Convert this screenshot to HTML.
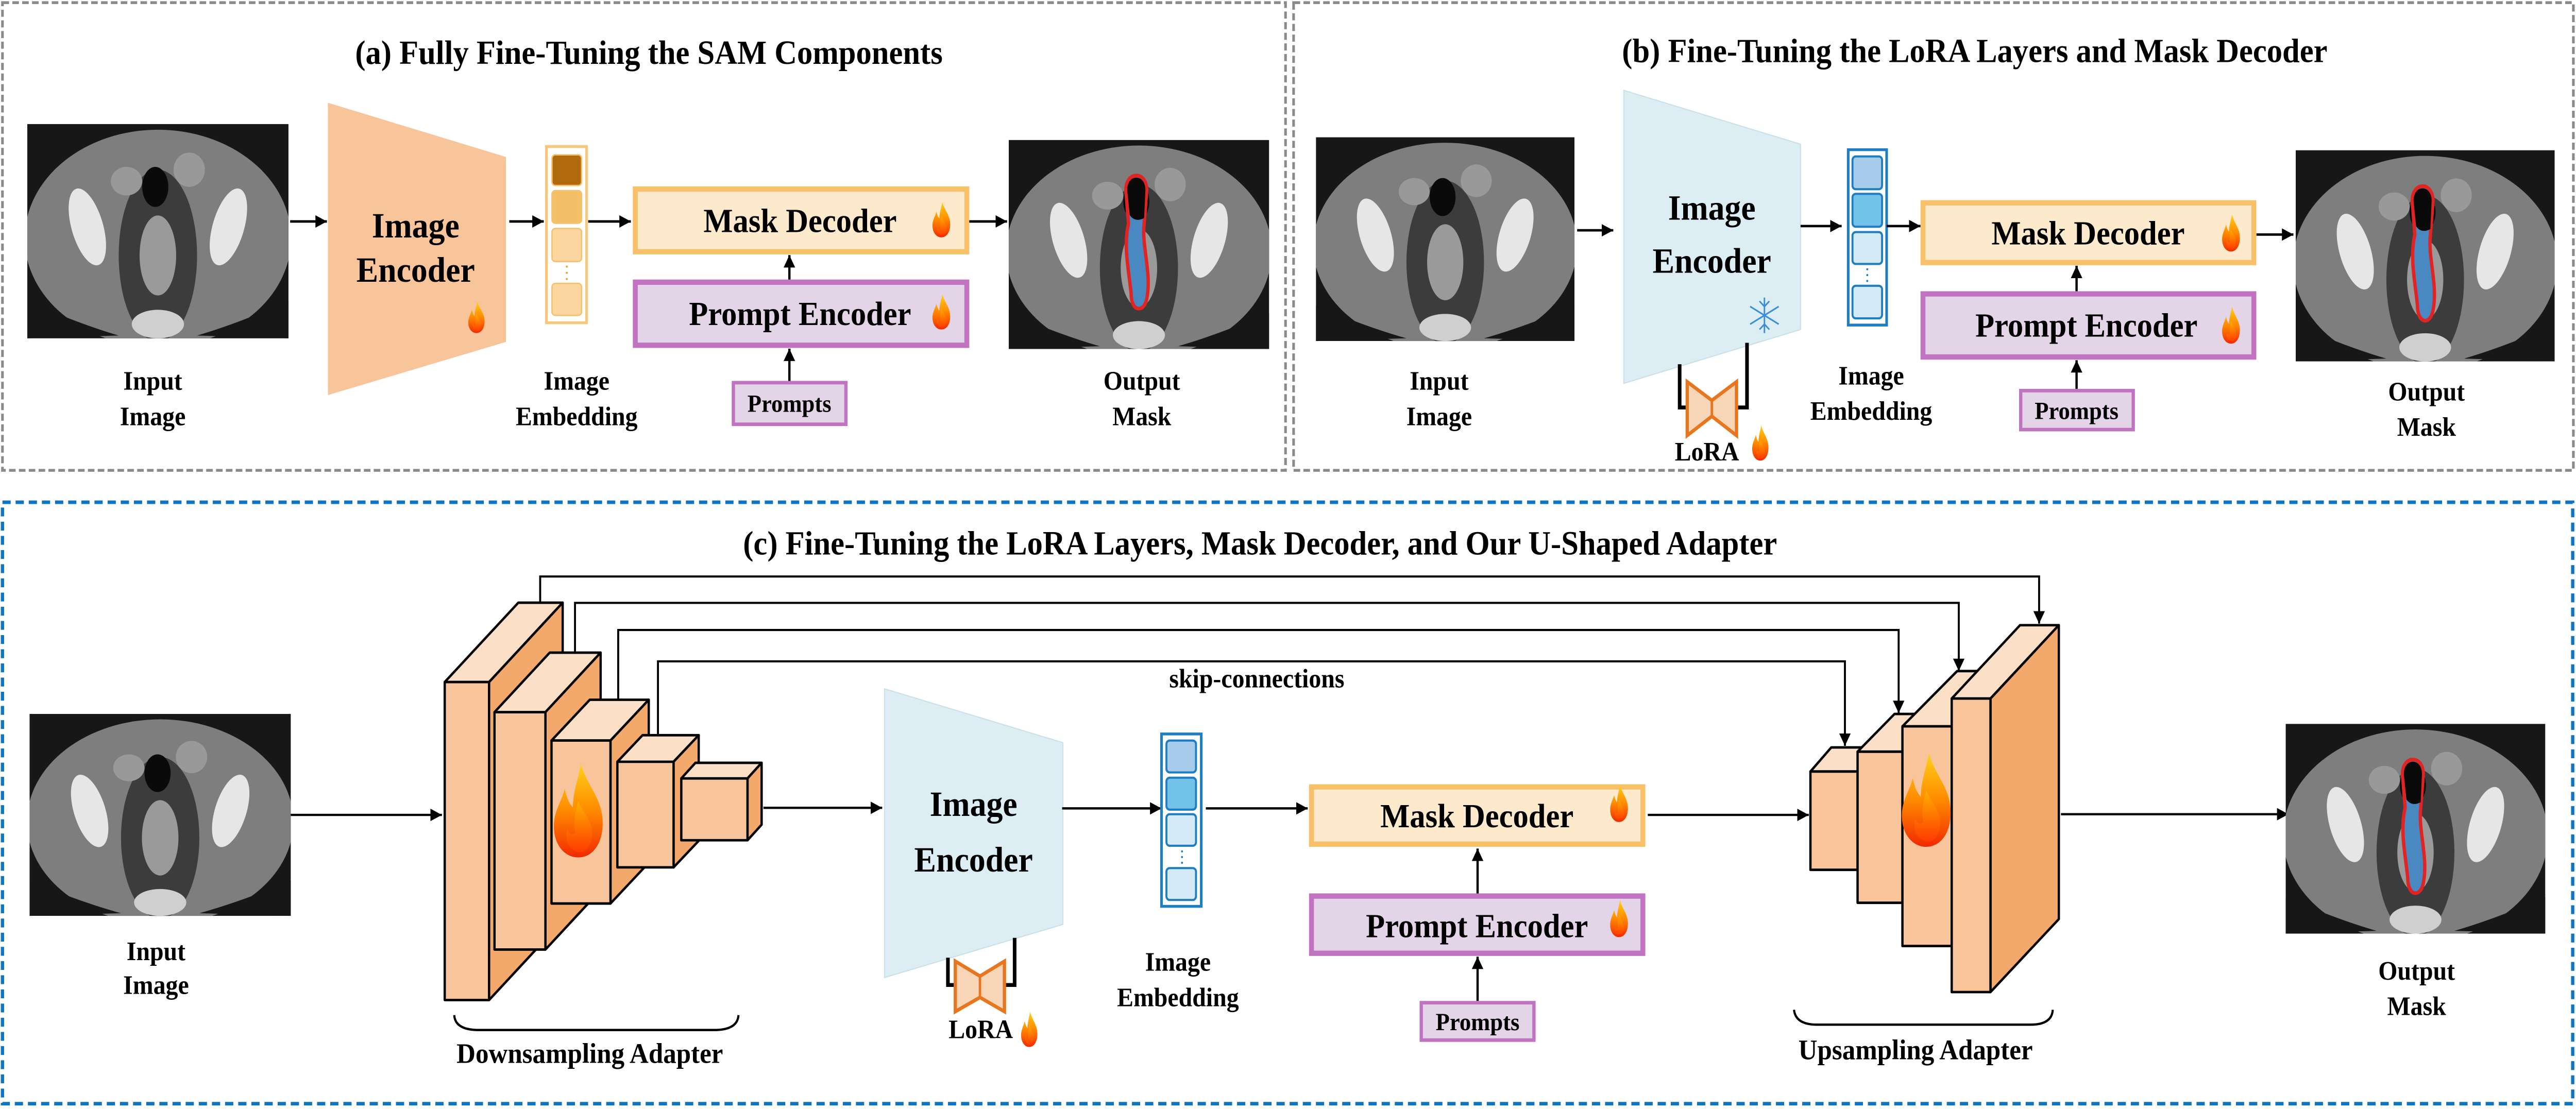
<!DOCTYPE html>
<html><head><meta charset="utf-8"><style>
html,body{margin:0;padding:0;background:#fff;width:100%;height:100%;overflow:hidden;}
svg.main{display:block;position:absolute;left:0;top:0;width:100vw;height:100vh;font-family:"Liberation Serif","Times New Roman",Times,serif;font-weight:bold;}
svg.main text{font-family:"Liberation Serif","Times New Roman",Times,serif !important;font-weight:bold;fill:#000;}
</style></head><body>
<svg class="main" xmlns="http://www.w3.org/2000/svg" viewBox="0 0 1568 626" preserveAspectRatio="none" style="font-family:'Liberation Serif','Times New Roman',serif;font-weight:bold">
<defs>
<marker id="ah" viewBox="0 0 10 10" refX="10" refY="5" markerWidth="7" markerHeight="7" markerUnits="userSpaceOnUse" orient="auto"><path d="M0,0 L10,5 L0,10 z" fill="#000"/></marker>
<linearGradient id="fg" x1="0" y1="0" x2="0" y2="1"><stop offset="0" stop-color="#ffd21a"/><stop offset="0.5" stop-color="#ff8a00"/><stop offset="1" stop-color="#f02a00"/></linearGradient>
<linearGradient id="fg2" x1="0" y1="0" x2="0" y2="1"><stop offset="0" stop-color="#ffb000"/><stop offset="1" stop-color="#ff3a00"/></linearGradient>
<symbol id="flame" viewBox="0 0 20 30" preserveAspectRatio="none">
<path d="M11 0 C13 7 19 11 19 19 C19 26 15 30 10 30 C5 30 1 26 1 20 C1 15 4 12 5 8 C6 12 7 13 8 14 C8 9 10 5 11 0Z" fill="url(#fg)"/>
<path d="M10 12 C12 16 16 19 15 24 C14 28 11 29 9 28 C6 27 5 24 6 21 C7 23 8 23 9 22 C8 19 9 15 10 12Z" fill="url(#fg2)"/>
</symbol>
<symbol id="ct" viewBox="0 0 100 75" preserveAspectRatio="none">
<rect width="100" height="75" fill="#171717"/>
<ellipse cx="50" cy="40" rx="51" ry="38" fill="#7e7e7e"/>
<ellipse cx="50" cy="46" rx="15" ry="30" fill="#3c3c3c"/>
<ellipse cx="50" cy="46" rx="7" ry="14" fill="#9a9a9a"/>
<ellipse cx="38" cy="20" rx="6" ry="5" fill="#999"/>
<ellipse cx="62" cy="16" rx="6" ry="6" fill="#999"/>
<ellipse cx="23" cy="36" rx="6" ry="14" fill="#e6e6e6" transform="rotate(-18 23 36)"/>
<ellipse cx="77" cy="36" rx="6" ry="14" fill="#e6e6e6" transform="rotate(18 77 36)"/>
<ellipse cx="49" cy="22" rx="5" ry="7" fill="#0a0a0a"/>
<ellipse cx="50" cy="70" rx="10" ry="5" fill="#cfcfcf"/>
<path d="M0 62 Q20 70 35 74 L0 75Z M100 62 Q80 70 65 74 L100 75Z" fill="#171717"/>
</symbol>
<symbol id="ctm" viewBox="0 0 100 75" preserveAspectRatio="none">
<use href="#ct" width="100" height="75"/>
<path d="M45 18 C45 11 53 11 53 18 L52 30 C51 38 55 48 53 57 C52 62 47 62 47 55 C46 46 44 38 46 30 Z" fill="#4a88c2" stroke="#e02424" stroke-width="1.3"/>
<path d="M45.5 18 C45.5 12 52.5 12 52.5 18 L52 28 C50 29 48 29 46.5 27 Z" fill="#0a0a0a"/>
</symbol>
</defs>
<rect width="1568" height="626" fill="#fff"/>

<rect x="1.5" y="1.5" width="781" height="264" fill="none" stroke="#8a8a8a" stroke-width="1.6" stroke-dasharray="4,2"/>
<rect x="787.4" y="1.5" width="779" height="264" fill="none" stroke="#8a8a8a" stroke-width="1.6" stroke-dasharray="4,2"/>
<rect x="1.5" y="283.5" width="1564.5" height="339.5" fill="none" stroke="#0e74c4" stroke-width="2" stroke-dasharray="5,3"/>

<g font-family="Liberation Serif, Times New Roman, serif" font-weight="bold">
<!-- ===== Panel A ===== -->
<text x="395" y="36" font-size="19" text-anchor="middle">(a) Fully Fine-Tuning the SAM Components</text>
<svg x="16.6" y="70" width="159" height="121" viewBox="0 0 100 75" preserveAspectRatio="none"><use href="#ct" width="100" height="75"/></svg>
<line x1="176.6" y1="125" x2="199" y2="125" stroke="#000" stroke-width="1.4" marker-end="url(#ah)"/>
<polygon points="199.6,58 308,88.6 308,193 199.6,223" fill="#f8c49a"/>
<text x="253" y="134" font-size="20" text-anchor="middle">Image</text>
<text x="253" y="159" font-size="20" text-anchor="middle">Encoder</text>
<use href="#flame" x="284.5" y="170" width="11" height="18"/>
<line x1="310" y1="125" x2="331" y2="125" stroke="#000" stroke-width="1.4" marker-end="url(#ah)"/>
<rect x="332.6" y="82.7" width="24.4" height="99.5" fill="#fff" stroke="#f8c77a" stroke-width="1.6"/>
<rect x="336" y="87.4" width="18" height="17.3" rx="2" fill="#b0690f" stroke="#f5bf68" stroke-width="0.8"/>
<rect x="336" y="107.6" width="18" height="18.4" rx="2" fill="#f5bf68" stroke="#f5c070" stroke-width="0.8"/>
<rect x="336" y="129" width="18" height="18.6" rx="2" fill="#fcd69f" stroke="#f5c070" stroke-width="0.8"/>
<rect x="336" y="160" width="18" height="18" rx="2" fill="#fcd69f" stroke="#f5c070" stroke-width="0.8"/>
<circle cx="345" cy="150.5" r="0.6" fill="#e8a040"/><circle cx="345" cy="154" r="0.6" fill="#e8a040"/><circle cx="345" cy="157.5" r="0.6" fill="#e8a040"/>
<line x1="358" y1="125" x2="384" y2="125" stroke="#000" stroke-width="1.4" marker-end="url(#ah)"/>
<rect x="386.7" y="106.7" width="201.8" height="35.4" fill="#fde9cc" stroke="#f8c169" stroke-width="3"/>
<text x="487" y="131" font-size="19" text-anchor="middle">Mask Decoder</text>
<use href="#flame" x="567" y="114" width="12" height="20"/>
<line x1="480.5" y1="157.8" x2="480.5" y2="144" stroke="#000" stroke-width="1.4" marker-end="url(#ah)"/>
<rect x="386.7" y="159.3" width="201.8" height="35.6" fill="#e4d4e8" stroke="#c173c1" stroke-width="3"/>
<text x="487" y="183.5" font-size="19" text-anchor="middle">Prompt Encoder</text>
<use href="#flame" x="567" y="166" width="12" height="20"/>
<line x1="480.5" y1="215" x2="480.5" y2="196.8" stroke="#000" stroke-width="1.4" marker-end="url(#ah)"/>
<rect x="446.4" y="216" width="68.5" height="23.5" fill="#e4d4e8" stroke="#c173c1" stroke-width="2"/>
<text x="480.5" y="232.5" font-size="14" text-anchor="middle">Prompts</text>
<line x1="590" y1="125" x2="613" y2="125" stroke="#000" stroke-width="1.4" marker-end="url(#ah)"/>
<svg x="614" y="79" width="158.5" height="118" viewBox="0 0 100 75" preserveAspectRatio="none"><use href="#ctm" width="100" height="75"/></svg>
<text x="93" y="220" font-size="15" text-anchor="middle">Input</text>
<text x="93" y="240" font-size="15" text-anchor="middle">Image</text>
<text x="351" y="220" font-size="15" text-anchor="middle">Image</text>
<text x="351" y="240" font-size="15" text-anchor="middle">Embedding</text>
<text x="695" y="220" font-size="15" text-anchor="middle">Output</text>
<text x="695" y="240" font-size="15" text-anchor="middle">Mask</text>

<!-- ===== Panel B ===== -->
<text x="1202" y="35" font-size="19" text-anchor="middle">(b) Fine-Tuning the LoRA Layers and Mask Decoder</text>
<svg x="801" y="77.5" width="157.4" height="115" viewBox="0 0 100 75" preserveAspectRatio="none"><use href="#ct" width="100" height="75"/></svg>
<line x1="960" y1="130" x2="982" y2="130" stroke="#000" stroke-width="1.4" marker-end="url(#ah)"/>
<polygon points="988.4,51 1096,81.4 1096,186 988.4,216.4" fill="#dcedf4" stroke="#c9dfea" stroke-width="0.6"/>
<text x="1042" y="124" font-size="20" text-anchor="middle">Image</text>
<text x="1042" y="154" font-size="20" text-anchor="middle">Encoder</text>
<g stroke="#3a8fd6" stroke-width="0.9" fill="none">
<line x1="1074" y1="168" x2="1074" y2="188"/><line x1="1065.3" y1="173" x2="1082.7" y2="183"/><line x1="1065.3" y1="183" x2="1082.7" y2="173"/>
<line x1="1071" y1="170" x2="1074" y2="173"/><line x1="1077" y1="170" x2="1074" y2="173"/>
<line x1="1071" y1="186" x2="1074" y2="183"/><line x1="1077" y1="186" x2="1074" y2="183"/>
</g>
<path d="M1022.4,205.6 L1022.4,230 L1027,230 M1063.4,193.5 L1063.4,230 L1057,230" fill="none" stroke="#000" stroke-width="2.2"/>
<polygon points="1027,215.5 1042,226 1057,215.5 1057,245.8 1042,235 1027,245.8" fill="#f9d5b8" stroke="#e8761e" stroke-width="2"/>
<line x1="1042" y1="226" x2="1042" y2="235" stroke="#e8761e" stroke-width="1.5"/>
<text x="1039" y="260" font-size="15" text-anchor="middle">LoRA</text>
<use href="#flame" x="1066" y="240" width="11" height="20"/>
<line x1="1096" y1="127.6" x2="1121" y2="127.6" stroke="#000" stroke-width="1.4" marker-end="url(#ah)"/>
<rect x="1125" y="84.5" width="23.4" height="99" fill="#fff" stroke="#1f7ec1" stroke-width="1.6"/>
<rect x="1127.6" y="88.3" width="18" height="18.5" rx="2" fill="#a7cbea" stroke="#1f7ec1" stroke-width="1.2"/>
<rect x="1127.6" y="109.4" width="18" height="18.6" rx="2" fill="#72c2ea" stroke="#1f7ec1" stroke-width="1.2"/>
<rect x="1127.6" y="131" width="18" height="18" rx="2" fill="#d3eaf6" stroke="#1f7ec1" stroke-width="1.2"/>
<rect x="1127.6" y="161.3" width="18" height="18.4" rx="2" fill="#d3eaf6" stroke="#1f7ec1" stroke-width="1.2"/>
<circle cx="1136.6" cy="152" r="0.6" fill="#1f7ec1"/><circle cx="1136.6" cy="155.3" r="0.6" fill="#1f7ec1"/><circle cx="1136.6" cy="158.6" r="0.6" fill="#1f7ec1"/>
<line x1="1148.4" y1="127.6" x2="1169" y2="127.6" stroke="#000" stroke-width="1.4" marker-end="url(#ah)"/>
<rect x="1170.5" y="114.5" width="201.4" height="33.7" fill="#fde9cc" stroke="#f8c169" stroke-width="3"/>
<text x="1271" y="138" font-size="19" text-anchor="middle">Mask Decoder</text>
<use href="#flame" x="1352" y="121" width="12" height="21"/>
<line x1="1264" y1="164.4" x2="1264" y2="150" stroke="#000" stroke-width="1.4" marker-end="url(#ah)"/>
<rect x="1170.5" y="165.9" width="201.4" height="35.6" fill="#e4d4e8" stroke="#c173c1" stroke-width="3"/>
<text x="1270" y="190" font-size="19" text-anchor="middle">Prompt Encoder</text>
<use href="#flame" x="1352" y="173" width="12" height="21"/>
<line x1="1264" y1="219.5" x2="1264" y2="203.3" stroke="#000" stroke-width="1.4" marker-end="url(#ah)"/>
<rect x="1230" y="220.5" width="68.5" height="22" fill="#e4d4e8" stroke="#c173c1" stroke-width="2"/>
<text x="1264" y="236.5" font-size="14" text-anchor="middle">Prompts</text>
<line x1="1373.5" y1="132.4" x2="1396" y2="132.4" stroke="#000" stroke-width="1.4" marker-end="url(#ah)"/>
<svg x="1397.4" y="84.8" width="157.6" height="119.2" viewBox="0 0 100 75" preserveAspectRatio="none"><use href="#ctm" width="100" height="75"/></svg>
<text x="876" y="220" font-size="15" text-anchor="middle">Input</text>
<text x="876" y="240" font-size="15" text-anchor="middle">Image</text>
<text x="1139" y="217" font-size="15" text-anchor="middle">Image</text>
<text x="1139" y="237" font-size="15" text-anchor="middle">Embedding</text>
<text x="1477" y="226" font-size="15" text-anchor="middle">Output</text>
<text x="1477" y="246" font-size="15" text-anchor="middle">Mask</text>

<!-- ===== Panel C ===== -->
<text x="767" y="313" font-size="19" text-anchor="middle">(c) Fine-Tuning the LoRA Layers, Mask Decoder, and Our U-Shaped Adapter</text>
<svg x="18" y="403" width="159" height="114" viewBox="0 0 100 75" preserveAspectRatio="none"><use href="#ct" width="100" height="75"/></svg>
<text x="95" y="542" font-size="15" text-anchor="middle">Input</text>
<text x="95" y="561" font-size="15" text-anchor="middle">Image</text>
<line x1="177" y1="460" x2="269" y2="460" stroke="#000" stroke-width="1.3" marker-end="url(#ah)"/>

<g fill="none" stroke="#000" stroke-width="1.2">
<polyline points="328.8,340 328.8,325.4 1241.2,325.4 1241.2,352" marker-end="url(#ah)"/>
<polyline points="350,368.4 350,340.3 1192.3,340.3 1192.3,378.8" marker-end="url(#ah)"/>
<polyline points="376.3,395 376.3,355.6 1155.7,355.6 1155.7,402.5" marker-end="url(#ah)"/>
<polyline points="400.5,415 400.5,373.3 1123,373.3 1123,421" marker-end="url(#ah)"/>
</g>
<text x="765" y="388" font-size="15" text-anchor="middle">skip-connections</text>

<g stroke="#000" stroke-width="1.4" stroke-linejoin="round">
<polygon points="270.7,385 315.5,340.2 342.5,340.2 297.7,385" fill="#fbdfc6"/>
<polygon points="297.7,385 342.5,340.2 342.5,519.7 297.7,564.5" fill="#f3a96b"/>
<rect x="270.7" y="385" width="27" height="179.5" fill="#f8c49c"/>
<polygon points="301,402 334.6,368.4 365.6,368.4 332,402" fill="#fbdfc6"/>
<polygon points="332,402 365.6,368.4 365.6,502.4 332,536" fill="#f3a96b"/>
<rect x="301" y="402" width="31" height="134" fill="#f8c49c"/>
<polygon points="335.7,418 359,395 394.9,395 371.6,418" fill="#fbdfc6"/>
<polygon points="371.6,418 394.9,395 394.9,487 371.6,510" fill="#f3a96b"/>
<rect x="335.7" y="418" width="35.9" height="92" fill="#f8c49c"/>
<polygon points="375.8,430 391.1,415 425.3,415 410,430" fill="#fbdfc6"/>
<polygon points="410,430 425.3,415 425.3,474.6 410,489.6" fill="#f3a96b"/>
<rect x="375.8" y="430" width="34.2" height="59.6" fill="#f8c49c"/>
<polygon points="414.7,439.4 423.3,430.6 463.6,430.6 455,439.4" fill="#fbdfc6"/>
<polygon points="455,439.4 463.6,430.6 463.6,465.5 455,474.3" fill="#f3a96b"/>
<rect x="414.7" y="439.4" width="40.3" height="34.9" fill="#f8c49c"/>
</g>
<use href="#flame" x="335.5" y="431" width="33" height="53"/>
<path d="M276.5,573 Q277,581 290,581.4 L436,581.4 Q449,581 449.5,573" fill="none" stroke="#000" stroke-width="1.3"/>
<text x="359" y="600" font-size="16" text-anchor="middle">Downsampling Adapter</text>

<line x1="464.7" y1="456" x2="537" y2="456" stroke="#000" stroke-width="1.3" marker-end="url(#ah)"/>
<polygon points="538.4,388.8 647,419.2 647,521.8 538.4,551.8" fill="#dcedf4" stroke="#c9dfea" stroke-width="0.6"/>
<text x="592.6" y="460.5" font-size="20" text-anchor="middle">Image</text>
<text x="592.6" y="492" font-size="20" text-anchor="middle">Encoder</text>
<path d="M577,540.6 L577,556 L583,556 M617.6,529.4 L617.6,556 L611.4,556" fill="none" stroke="#000" stroke-width="2.2"/>
<polygon points="581.5,542.6 596.5,551 611.4,542.6 611.4,571 596.5,563 581.5,571" fill="#f9d5b8" stroke="#e8761e" stroke-width="2"/>
<line x1="596.5" y1="551" x2="596.5" y2="563" stroke="#e8761e" stroke-width="1.5"/>
<text x="597" y="586" font-size="15" text-anchor="middle">LoRA</text>
<use href="#flame" x="621" y="571" width="11" height="20"/>

<line x1="646.5" y1="456.3" x2="707" y2="456.3" stroke="#000" stroke-width="1.3" marker-end="url(#ah)"/>
<rect x="707" y="414.3" width="24.2" height="97.3" fill="#fff" stroke="#1f7ec1" stroke-width="1.6"/>
<rect x="710" y="418" width="18" height="18" rx="2" fill="#a7cbea" stroke="#1f7ec1" stroke-width="1.2"/>
<rect x="710" y="439" width="18" height="18" rx="2" fill="#72c2ea" stroke="#1f7ec1" stroke-width="1.2"/>
<rect x="710" y="459.6" width="18" height="17.8" rx="2" fill="#d3eaf6" stroke="#1f7ec1" stroke-width="1.2"/>
<rect x="710" y="490" width="18" height="18" rx="2" fill="#d3eaf6" stroke="#1f7ec1" stroke-width="1.2"/>
<circle cx="719.5" cy="480.6" r="0.6" fill="#1f7ec1"/><circle cx="719.5" cy="483.8" r="0.6" fill="#1f7ec1"/><circle cx="719.5" cy="487" r="0.6" fill="#1f7ec1"/>
<text x="717" y="548" font-size="15" text-anchor="middle">Image</text>
<text x="717" y="568" font-size="15" text-anchor="middle">Embedding</text>
<line x1="734" y1="456.3" x2="796" y2="456.3" stroke="#000" stroke-width="1.3" marker-end="url(#ah)"/>
<rect x="798.3" y="444.2" width="201.7" height="32.3" fill="#fde9cc" stroke="#f8c169" stroke-width="3"/>
<text x="899" y="467" font-size="19" text-anchor="middle">Mask Decoder</text>
<use href="#flame" x="979.5" y="443" width="12" height="21"/>
<line x1="899.4" y1="505" x2="899.4" y2="479" stroke="#000" stroke-width="1.4" marker-end="url(#ah)"/>
<rect x="798.3" y="505.8" width="201.7" height="32.3" fill="#e4d4e8" stroke="#c173c1" stroke-width="3"/>
<text x="899" y="529" font-size="19" text-anchor="middle">Prompt Encoder</text>
<use href="#flame" x="979.5" y="508" width="12" height="21"/>
<line x1="899.4" y1="565" x2="899.4" y2="540" stroke="#000" stroke-width="1.4" marker-end="url(#ah)"/>
<rect x="865.1" y="566" width="68.6" height="21.1" fill="#e4d4e8" stroke="#c173c1" stroke-width="2"/>
<text x="899.4" y="581.5" font-size="14" text-anchor="middle">Prompts</text>
<line x1="1003" y1="460" x2="1101" y2="460" stroke="#000" stroke-width="1.3" marker-end="url(#ah)"/>

<g stroke="#000" stroke-width="1.4" stroke-linejoin="round">
<polygon points="1102,435.5 1114.7,421.9 1143.4,421.9 1130.7,435.5" fill="#fbdfc6"/>
<polygon points="1130.7,435.5 1143.4,421.9 1143.4,477.4 1130.7,491" fill="#f3a96b"/>
<rect x="1102" y="435.5" width="28.7" height="55.5" fill="#f8c49c"/>
<polygon points="1130.7,424.3 1153.2,403 1180.5,403 1158,424.3" fill="#fbdfc6"/>
<polygon points="1158,424.3 1180.5,403 1180.5,488.3 1158,509.6" fill="#f3a96b"/>
<rect x="1130.7" y="424.3" width="27.3" height="85.3" fill="#f8c49c"/>
<polygon points="1158,410 1191.3,378.8 1221.3,378.8 1188,410" fill="#fbdfc6"/>
<polygon points="1188,410 1221.3,378.8 1221.3,502.8 1188,534" fill="#f3a96b"/>
<rect x="1158" y="410" width="30" height="124" fill="#f8c49c"/>
<polygon points="1188,394.3 1229.6,352.9 1253.2,352.9 1211.6,394.3" fill="#fbdfc6"/>
<polygon points="1211.6,394.3 1253.2,352.9 1253.2,518.8 1211.6,560" fill="#f3a96b"/>
<rect x="1188" y="394.3" width="23.6" height="165.7" fill="#f8c49c"/>
</g>
<use href="#flame" x="1156" y="425" width="33" height="53"/>
<path d="M1092,570 Q1093,578.4 1106,578.4 L1236,578.4 Q1249,578.4 1249.5,570" fill="none" stroke="#000" stroke-width="1.3"/>
<text x="1166" y="598" font-size="16" text-anchor="middle">Upsampling Adapter</text>

<line x1="1254.5" y1="459.6" x2="1393" y2="459.6" stroke="#000" stroke-width="1.3" marker-end="url(#ah)"/>
<svg x="1391.3" y="408.6" width="158" height="118.4" viewBox="0 0 100 75" preserveAspectRatio="none"><use href="#ctm" width="100" height="75"/></svg>
<text x="1471" y="553" font-size="15" text-anchor="middle">Output</text>
<text x="1471" y="573" font-size="15" text-anchor="middle">Mask</text>
</g>
</svg>
</body></html>
